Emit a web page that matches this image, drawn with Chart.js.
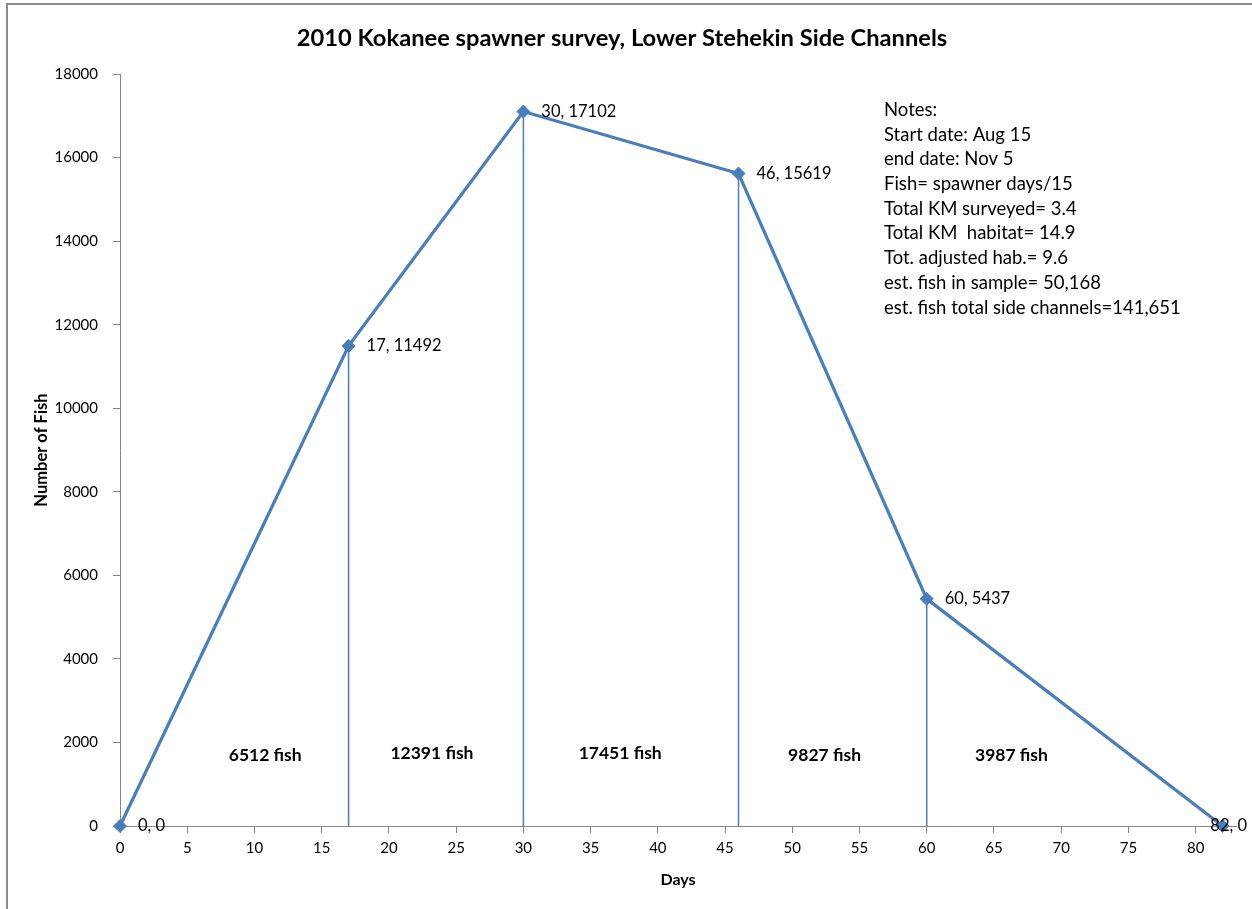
<!DOCTYPE html>
<html>
<head>
<meta charset="utf-8">
<title>2010 Kokanee spawner survey</title>
<script src="https://cdn.jsdelivr.net/npm/chart.js@4.4.1/dist/chart.umd.min.js"></script>
<style>
  html, body { margin: 0; padding: 0; background: #fff; }
  canvas { display: block; }
</style>
</head>
<body>
<canvas id="chart" width="1252" height="909"></canvas>
<script>
// survey data: day of survey vs number of fish seen
var surveyDays = [0, 17, 30, 46, 60, 82];
var fishCounts = [0, 11492, 17102, 15619, 5437, 0];

// fish totals between survey dates, with where each one sits (days, fish)
var periodTotals = ['6512 fish', '12391 fish', '17451 fish', '9827 fish', '3987 fish'];
var periodLabelDays = [10.8, 23.2, 37.2, 52.4, 66.3];
var periodLabelFish = [1680, 1750, 1750, 1680, 1700];

var notesLines = [
  'Notes:',
  'Start date: Aug 15',
  'end date: Nov 5',
  'Fish= spawner days/15',
  'Total KM surveyed= 3.4',
  'Total KM  habitat= 14.9',
  'Tot. adjusted hab.= 9.6',
  'est. fish in sample= 50,168',
  'est. fish total side channels=141,651'
];

var FONT = 'Lato, "Open Sans", sans-serif';
var BLUE = '#4A7EBB';
var AXIS = '#868686';

var mainPoints = surveyDays.map(function (d, i) { return {x: d, y: fishCounts[i]}; });

var datasets = [{
  data: mainPoints,
  showLine: true,
  borderColor: BLUE,
  backgroundColor: BLUE,
  borderWidth: 3.2,
  pointStyle: 'rectRot',
  pointRadius: 6.5,
  pointBorderWidth: 1,
  clip: false
}];

// drop lines from each inner survey point to the axis
for (var i = 1; i < surveyDays.length - 1; i++) {
  datasets.push({
    data: [{x: surveyDays[i], y: 0}, {x: surveyDays[i], y: fishCounts[i]}],
    showLine: true,
    borderColor: BLUE,
    borderWidth: 1.5,
    pointRadius: 0
  });
}

var framePlugin = {
  id: 'frame',
  beforeDraw: function (chart) {
    var ctx = chart.ctx;
    ctx.save();
    ctx.fillStyle = '#fff';
    ctx.fillRect(0, 0, chart.width, chart.height);
    ctx.strokeStyle = '#8c8c8c';
    ctx.lineWidth = 2;
    ctx.strokeRect(7, 4, chart.width + 20, chart.height + 20);
    ctx.restore();
  }
};

var labelsPlugin = {
  id: 'pointLabels',
  afterDatasetsDraw: function (chart) {
    var ctx = chart.ctx;
    var xs = chart.scales.x, ys = chart.scales.y;
    var meta = chart.getDatasetMeta(0);
    ctx.save();
    ctx.fillStyle = '#000';
    ctx.textBaseline = 'middle';
    ctx.textAlign = 'left';
    ctx.font = '16.5px ' + FONT;
    meta.data.forEach(function (pt, i) {
      var text = surveyDays[i] + ', ' + fishCounts[i];
      var w = ctx.measureText(text).width;
      var x = Math.min(pt.x + 18, chart.width - 5 - w);
      ctx.fillText(text, x, pt.y);
    });

    ctx.font = 'bold 17.5px ' + FONT;
    ctx.textAlign = 'center';
    periodTotals.forEach(function (t, i) {
      ctx.fillText(t, xs.getPixelForValue(periodLabelDays[i]), ys.getPixelForValue(periodLabelFish[i]));
    });

    ctx.font = '18.5px ' + FONT;
    ctx.textAlign = 'left';
    notesLines.forEach(function (line, i) {
      ctx.fillText(line, 884, 110 + i * 24.7);
    });
    ctx.restore();
  }
};

new Chart(document.getElementById('chart'), {
  type: 'scatter',
  data: {datasets: datasets},
  plugins: [framePlugin, labelsPlugin],
  options: {
    responsive: false,
    animation: false,
    layout: {padding: {left: 8, right: 16, top: 0, bottom: 0}},
    plugins: {
      legend: {display: false},
      tooltip: {enabled: false},
      title: {
        display: true,
        text: '2010 Kokanee spawner survey, Lower Stehekin Side Channels',
        color: '#000',
        font: {family: FONT, size: 23.7, weight: 'bold'},
        padding: {top: 24, bottom: 21.6}
      }
    },
    scales: {
      x: {
        type: 'linear',
        min: 0,
        max: 83,
        border: {display: true, color: AXIS, width: 1},
        grid: {drawOnChartArea: false, drawTicks: true, tickLength: 7, color: AXIS},
        ticks: {stepSize: 5, padding: 6, color: '#000', maxRotation: 0, autoSkip: false,
                font: {family: FONT, size: 15}},
        title: {display: true, text: 'Days', color: '#000',
                font: {family: FONT, size: 16, weight: 'bold'}, padding: {top: 0, bottom: 19.4}},
        afterBuildTicks: function (scale) {
          scale.ticks = scale.ticks.filter(function (t) { return t.value % 5 === 0; });
        },
        afterFit: function (scale) { scale.height = 83; }
      },
      y: {
        min: 0,
        max: 18000,
        border: {display: true, color: AXIS, width: 1},
        grid: {drawOnChartArea: false, drawTicks: true, tickLength: 7, color: AXIS},
        ticks: {stepSize: 2000, padding: 15, color: '#000', font: {family: FONT, size: 15},
                callback: function (v) { return String(v); }},
        title: {display: true, text: 'Number of Fish', color: '#000',
                font: {family: FONT, size: 16.5, weight: 'bold'}, padding: {top: 24.1, bottom: 0}},
        afterFit: function (scale) { scale.width = 112; }
      }
    }
  }
});
</script>
</body>
</html>
